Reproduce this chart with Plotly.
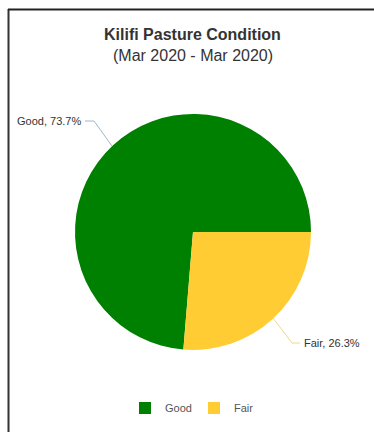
import plotly.graph_objects as go

labels = ["Good", "Fair"]
values = [73.7, 26.3]
colors = ["#008000", "#ffcc33"]
title_text = "Kilifi Pasture Condition"
subtitle_text = "(Mar 2020 - Mar 2020)"

W, H = 374, 432
FONT = "Liberation Sans, Arial, sans-serif"

def px(x):
    return x / W

def py(y):
    return 1 - y / H

# pie geometry (pixels)
cx, cy, r = 193, 232, 118
rotation = 90 + 360 * values[1] / sum(values)

fig = go.Figure(go.Pie(
    labels=labels, values=values, sort=False, direction="clockwise",
    rotation=rotation, marker=dict(colors=colors, line=dict(width=0)),
    textinfo="none", hoverinfo="label+percent",
    domain=dict(x=[px(cx - r), px(cx + r)], y=[py(cy + r), py(cy - r)]),
))

shapes = [
    # frame
    dict(type="line", xref="paper", yref="paper", x0=px(8.5), x1=px(8.5), y0=0, y1=py(9), line=dict(color="#333", width=2)),
    dict(type="line", xref="paper", yref="paper", x0=px(8), x1=1, y0=py(9.5), y1=py(9.5), line=dict(color="#222", width=2)),
    # leader lines
    dict(type="path", xref="paper", yref="paper",
         path=f"M {px(85)} {py(121)} L {px(94)} {py(121)} L {px(112)} {py(146)}",
         line=dict(color="#9fb8c8", width=1)),
    dict(type="path", xref="paper", yref="paper",
         path=f"M {px(273)} {py(318)} L {px(292)} {py(343)} L {px(300)} {py(343)}",
         line=dict(color="#f0d890", width=1)),
]

annotations = [
    dict(text=f"<b>{title_text}</b>", x=px(193), y=py(35), xref="paper", yref="paper",
         xanchor="center", yanchor="middle", showarrow=False, font=dict(size=16, color="#333", family=FONT)),
    dict(text=subtitle_text, x=px(193), y=py(55), xref="paper", yref="paper",
         xanchor="center", yanchor="middle", showarrow=False, font=dict(size=16, color="#333", family=FONT)),
    dict(text=f"{labels[0]}, {values[0]}%", x=px(83), y=py(121), xref="paper", yref="paper",
         xanchor="right", yanchor="middle", showarrow=False, font=dict(size=11, color="#333", family=FONT)),
    dict(text=f"{labels[1]}, {values[1]}%", x=px(302), y=py(343), xref="paper", yref="paper",
         xanchor="left", yanchor="middle", showarrow=False, font=dict(size=11, color="#333", family=FONT)),
]

fig.update_layout(
    width=W, height=H,
    margin=dict(l=0, r=0, t=0, b=0),
    paper_bgcolor="white", plot_bgcolor="white",
    legend=dict(orientation="h", x=0.5 + 7 / W, xanchor="center", y=py(408), yanchor="middle",
                entrywidth=24, font=dict(size=11, color="#555", family=FONT)),
    shapes=shapes, annotations=annotations,
    font=dict(family=FONT),
)

fig.write_html("out.html")
